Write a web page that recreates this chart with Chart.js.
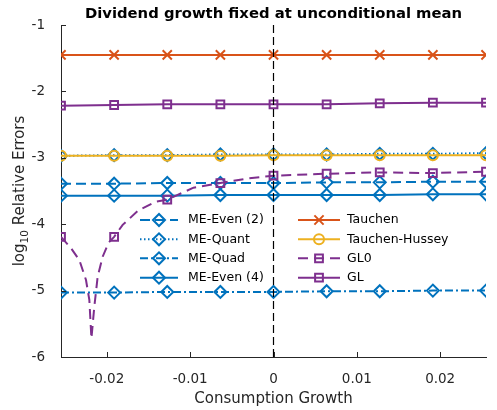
<!DOCTYPE html>
<html>
<head>
<meta charset="utf-8">
<script src="https://cdn.jsdelivr.net/npm/chart.js@4.4.1/dist/chart.umd.min.js"></script>
<style>
  html, body { margin: 0; padding: 0; background: #fff; }
</style>
</head>
<body>
<canvas id="chart" width="497" height="410"></canvas>
<script>
// grid of consumption growth values where the methods are evaluated
var gridX = [-0.0255, -0.019125, -0.01275, -0.006375, 0, 0.006375, 0.01275, 0.019125, 0.0255];

var tauchen       = [-1.45, -1.45, -1.45, -1.45, -1.45, -1.45, -1.45, -1.45, -1.45];
var tauchenHussey = [-2.97, -2.97, -2.97, -2.97, -2.96, -2.96, -2.96, -2.96, -2.96];
var gl            = [-2.215, -2.205, -2.195, -2.195, -2.195, -2.195, -2.18, -2.17, -2.17];
var meQuant       = [-2.97, -2.96, -2.96, -2.95, -2.95, -2.95, -2.94, -2.94, -2.93];
var meEven2       = [-3.39, -3.39, -3.38, -3.38, -3.38, -3.37, -3.37, -3.36, -3.36];
var meEven4       = [-3.57, -3.57, -3.57, -3.56, -3.56, -3.56, -3.56, -3.55, -3.55];
var meQuad        = [-5.03, -5.03, -5.02, -5.02, -5.02, -5.01, -5.01, -5.00, -5.00];

// GL0 is drawn on a finer grid, markers only on the main grid points
var gl0X = [-0.0255, -0.0243, -0.0233, -0.0225, -0.0221, -0.02185, -0.0215, -0.0211, -0.0205, -0.0198,
            -0.019125, -0.0181, -0.0162, -0.0141, -0.01275, -0.0096, -0.006375, -0.003, 0,
            0.006375, 0.01275, 0.019125, 0.0255];
var gl0Y = [-4.19, -4.36, -4.54, -4.84, -5.14, -5.72, -5.24, -4.79, -4.49, -4.28,
            -4.19, -4.01, -3.79, -3.66, -3.63, -3.45, -3.38, -3.31, -3.27,
            -3.24, -3.22, -3.23, -3.21];
var gl0Mark = [1, 0, 0, 0, 0, 0, 0, 0, 0, 0,
               1, 0, 0, 0, 1, 0, 1, 0, 1,
               1, 1, 1, 1];

var zeroLineX = [0, 0];
var zeroLineY = [-6, -1];

var xTicks = [-0.02, -0.01, 0, 0.01, 0.02];
var xTickLabels = ["-0.02", "-0.01", "0", "0.01", "0.02"];
var yTicks = [-6, -5, -4, -3, -2, -1];
var yTickLabels = ["-6", "-5", "-4", "-3", "-2", "-1"];

var BLUE = "#0072BD";
var ORANGE = "#D95319";
var YELLOW = "#EDB120";
var PURPLE = "#7E2F8E";
var AXIS = "#262626";
var FONT = "'DejaVu Sans', sans-serif";
var TITLE = "Dividend growth fixed at unconditional mean";

function toPoints(xs, ys) {
  return xs.map(function (x, i) { return { x: x, y: ys[i] }; });
}

function series(label, xs, ys, color, style, radius, dash, slot) {
  return {
    label: label,
    data: toPoints(xs, ys),
    borderColor: color,
    backgroundColor: "rgba(0,0,0,0)",
    borderWidth: 2,
    borderDash: dash,
    pointStyle: style,
    pointRadius: radius,
    pointHoverRadius: radius,
    pointBorderWidth: 2,
    pointBorderColor: color,
    pointBackgroundColor: "rgba(0,0,0,0)",
    tension: 0,
    legendSlot: slot,
    legendRadius: radius,
  };
}

var datasets = [
  series("ME-Even (2)", gridX, meEven2, BLUE, "rectRot", 6, [10, 5], [0, 0]),
  series("ME-Quant", gridX, meQuant, BLUE, "rectRot", 6, [1.5, 2.5], [0, 1]),
  series("ME-Quad", gridX, meQuad, BLUE, "rectRot", 6, [8, 3, 2, 3], [0, 2]),
  series("ME-Even (4)", gridX, meEven4, BLUE, "rectRot", 6, [], [0, 3]),
  series("Tauchen", gridX, tauchen, ORANGE, "crossRot", 6.5, [], [1, 0]),
  series("Tauchen-Hussey", gridX, tauchenHussey, YELLOW, "circle", 5, [], [1, 1]),
  series("GL0", gl0X, gl0Y, PURPLE, "rect", 5.5, [10, 6], [1, 2]),
  series("GL", gridX, gl, PURPLE, "rect", 5.5, [], [1, 3]),
];
// only mark GL0 at the main grid points
datasets[6].pointRadius = gl0Mark.map(function (m) { return m ? 5.5 : 0; });
datasets[6].pointHoverRadius = datasets[6].pointRadius;

datasets.push({
  label: "",
  data: toPoints(zeroLineX, zeroLineY),
  borderColor: "#000",
  borderWidth: 1.2,
  borderDash: [8, 4],
  pointRadius: 0,
  pointHoverRadius: 0,
  tension: 0,
});

datasets.forEach(function (ds, i) { ds.order = 20 - i; });

var legendCols = [
  { x0: 140, x1: 178, tx: 188 },
  { x0: 298, x1: 340, tx: 347 },
];
var legendRows = [220, 239.3, 258.3, 277.7];

var extrasPlugin = {
  id: "extras",
  afterDraw: function (chart) {
    var ctx = chart.ctx;
    var area = chart.chartArea;
    var xs = chart.scales.x;
    var ys = chart.scales.y;

    // title, centred over the axes
    ctx.save();
    ctx.fillStyle = "#000";
    ctx.font = "bold 14.8px " + FONT;
    ctx.textAlign = "center";
    ctx.textBaseline = "middle";
    ctx.fillText(TITLE, (area.left + area.right) / 2, 14);
    ctx.restore();

    // inward tick marks
    ctx.save();
    ctx.strokeStyle = AXIS;
    ctx.lineWidth = 1;
    ctx.setLineDash([]);
    ctx.beginPath();
    xTicks.forEach(function (v) {
      var px = Math.round(xs.getPixelForValue(v)) + 0.5;
      ctx.moveTo(px, area.bottom);
      ctx.lineTo(px, area.bottom - 5);
    });
    yTicks.forEach(function (v) {
      var py = Math.round(ys.getPixelForValue(v)) + 0.5;
      ctx.moveTo(area.left, py);
      ctx.lineTo(area.left + 5, py);
    });
    ctx.stroke();
    ctx.restore();

    // y axis title with subscript
    ctx.save();
    ctx.translate(20, (area.top + area.bottom) / 2);
    ctx.rotate(-Math.PI / 2);
    ctx.fillStyle = AXIS;
    ctx.textBaseline = "middle";
    ctx.textAlign = "left";
    var big = "15px " + FONT;
    var small = "10.5px " + FONT;
    ctx.font = big;
    var w1 = ctx.measureText("log").width;
    var w3 = ctx.measureText(" Relative Errors").width;
    ctx.font = small;
    var w2 = ctx.measureText("10").width;
    var start = -(w1 + w2 + w3) / 2;
    ctx.font = big;
    ctx.fillText("log", start, 0);
    ctx.font = small;
    ctx.fillText("10", start + w1, 5);
    ctx.font = big;
    ctx.fillText(" Relative Errors", start + w1 + w2, 0);
    ctx.restore();

    // legend, two columns, no box
    ctx.save();
    chart.data.datasets.forEach(function (ds) {
      if (!ds.legendSlot) return;
      var col = legendCols[ds.legendSlot[0]];
      var y = legendRows[ds.legendSlot[1]];
      ctx.strokeStyle = ds.borderColor;
      ctx.lineWidth = ds.borderWidth;
      ctx.setLineDash(ds.borderDash);
      ctx.beginPath();
      ctx.moveTo(col.x0, y);
      ctx.lineTo(col.x1, y);
      ctx.stroke();
      ctx.setLineDash([]);
      ctx.fillStyle = "rgba(0,0,0,0)";
      Chart.helpers.drawPoint(ctx, {
        pointStyle: ds.pointStyle,
        radius: ds.legendRadius,
        rotation: 0,
        borderWidth: 2,
      }, (col.x0 + col.x1) / 2, y);
      ctx.fillStyle = "#000";
      ctx.font = "12.5px " + FONT;
      ctx.textAlign = "left";
      ctx.textBaseline = "middle";
      ctx.fillText(ds.label, col.tx, y);
    });
    ctx.restore();
  },
};

Chart.defaults.font.family = FONT;

new Chart(document.getElementById("chart"), {
  type: "line",
  data: { datasets: datasets },
  plugins: [extrasPlugin],
  options: {
    responsive: false,
    animation: false,
    events: [],
    layout: { padding: { left: 0, right: 11, top: 25, bottom: 0 } },
    plugins: {
      legend: { display: false },
      tooltip: { enabled: false },
      title: { display: false },
    },
    scales: {
      x: {
        type: "linear",
        min: -0.0255,
        max: 0.0255,
        afterBuildTicks: function (s) {
          s.ticks = xTicks.map(function (v) { return { value: v }; });
        },
        afterFit: function (s) { s.height = 53; },
        ticks: {
          autoSkip: false,
          maxRotation: 0,
          padding: 6,
          color: AXIS,
          font: { size: 13.5 },
          callback: function (v) { return xTickLabels[xTicks.indexOf(v)]; },
        },
        grid: { display: false },
        border: { display: true, color: AXIS, width: 1 },
        title: {
          display: true,
          text: "Consumption Growth",
          color: AXIS,
          font: { size: 15 },
          padding: { top: 4, bottom: 2 },
        },
      },
      y: {
        type: "linear",
        min: -6,
        max: -1,
        afterBuildTicks: function (s) {
          s.ticks = yTicks.map(function (v) { return { value: v }; });
        },
        afterFit: function (s) { s.width = 61; },
        ticks: {
          padding: 8,
          color: AXIS,
          font: { size: 13.5 },
          callback: function (v) { return yTickLabels[yTicks.indexOf(v)]; },
        },
        grid: { display: false },
        border: { display: true, color: AXIS, width: 1 },
      },
    },
  },
});
</script>
</body>
</html>
